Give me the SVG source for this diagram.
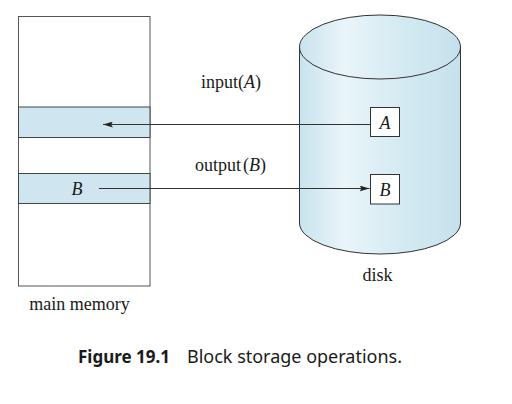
<svg xmlns="http://www.w3.org/2000/svg" width="512" height="404" viewBox="0 0 512 404">
<style>
.lbl{font-family:"Liberation Serif","Times New Roman",serif;font-size:18px;fill:#1a1a1a}
.it{font-style:italic}
.cap{font-family:"Noto Sans","Open Sans",sans-serif;font-size:17.5px;fill:#1a1a1a}
.ln{stroke:#333;stroke-width:1;fill:none}
.band{fill:#cfe6f0;stroke:#444;stroke-width:1}
</style>
<defs>
<linearGradient id="cyl" x1="0" y1="0" x2="1" y2="0">
<stop offset="0" stop-color="#c9e3ee"/>
<stop offset="0.28" stop-color="#e9f5f9"/>
<stop offset="0.6" stop-color="#d6ebf3"/>
<stop offset="1" stop-color="#c6e1ec"/>
</linearGradient>
<marker id="ah" viewBox="0 0 10 6" refX="10" refY="3" markerWidth="10" markerHeight="6" markerUnits="userSpaceOnUse" orient="auto">
<path d="M0,0 L10,3 L0,6 L2,3 Z" fill="#222"/>
</marker>
</defs>
<g id="main-memory">
<rect x="18.5" y="16.5" width="131.5" height="269.5" fill="#fff" stroke="#555" stroke-width="1"/>
<rect class="band" x="18.5" y="107" width="131.5" height="30.5"/>
<rect class="band" x="18.5" y="173.5" width="131.5" height="30"/>
<text class="lbl it" x="77" y="195" text-anchor="middle">B</text>
<text class="lbl" x="79.5" y="310" text-anchor="middle">main memory</text>
</g>
<g id="disk">
<path d="M299.5,47 L299.5,223 A80.5,31 0 0 0 460.5,223 L460.5,47" fill="url(#cyl)" stroke="#333" stroke-width="1"/>
<ellipse cx="380" cy="47" rx="80.5" ry="32" fill="url(#cyl)" stroke="#333" stroke-width="1"/>
<text class="lbl" x="377.5" y="281" text-anchor="middle">disk</text>
</g>
<g id="block-A">
<rect x="370.5" y="107.5" width="29" height="29" fill="#fff" stroke="#333" stroke-width="1"/>
<text class="lbl it" x="385" y="129" text-anchor="middle">A</text>
</g>
<g id="block-B">
<rect x="370.5" y="174.5" width="29" height="29.5" fill="#fff" stroke="#333" stroke-width="1"/>
<text class="lbl it" x="385" y="196" text-anchor="middle">B</text>
</g>
<g id="connectors">
<line class="ln" x1="370.5" y1="124.5" x2="103" y2="124.5" marker-end="url(#ah)"/>
<line class="ln" x1="99" y1="188.5" x2="369.5" y2="188.5" marker-end="url(#ah)"/>
<text class="lbl" x="201" y="88">input(<tspan class="it">A</tspan>)</text>
<text class="lbl" x="195" y="171">output<tspan dx="2">(</tspan><tspan class="it">B</tspan>)</text>
</g>
<g id="caption">
<text class="cap" x="78" y="363" font-weight="bold" textLength="92" lengthAdjust="spacingAndGlyphs">Figure 19.1</text>
<text class="cap" x="187" y="363" textLength="215" lengthAdjust="spacingAndGlyphs">Block storage operations.</text>
</g>
</svg>
